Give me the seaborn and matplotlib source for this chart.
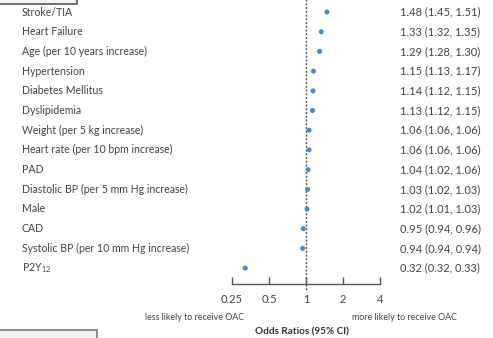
import numpy as np
import pandas as pd
import matplotlib
matplotlib.use("Agg")
import matplotlib.pyplot as plt
import matplotlib.transforms as mtransforms
from matplotlib.patches import Rectangle
import seaborn as sns

categories = ["Stroke/TIA", "Heart Failure", "Age (per 10 years increase)", "Hypertension",
              "Diabetes Mellitus", "Dyslipidemia", "Weight (per 5 kg increase)",
              "Heart rate (per 10 bpm increase)", "PAD", "Diastolic BP (per 5 mm Hg increase)",
              "Male", "CAD", "Systolic BP (per 10 mm Hg increase)", "P2Y$_{12}$"]
odds_ratio = [1.48, 1.33, 1.29, 1.15, 1.14, 1.13, 1.06, 1.06, 1.04, 1.03, 1.02, 0.95, 0.94, 0.32]
ci_low = [1.45, 1.32, 1.28, 1.13, 1.12, 1.12, 1.06, 1.06, 1.02, 1.02, 1.01, 0.94, 0.94, 0.32]
ci_high = [1.51, 1.35, 1.30, 1.17, 1.15, 1.15, 1.06, 1.06, 1.06, 1.03, 1.03, 0.96, 0.94, 0.33]
tick_values = [0.25, 0.5, 1, 2, 4]
tick_labels = ["0.25", "0.5", "1", "2", "4"]

sns.set_theme(style="white")
plt.rcParams['font.family'] = ['Lato', 'DejaVu Sans']
plt.rcParams['mathtext.default'] = 'regular'

W, H = 493, 338
fig = plt.figure(figsize=(W / 100, H / 100), dpi=100)
ax = fig.add_axes([0, 0, 1, 1])

df = pd.DataFrame({"cat": categories, "or": odds_ratio, "lo": ci_low, "hi": ci_high,
                   "row": np.arange(len(categories))})

blue = "#3b8ed6"
ax.hlines(df["row"], df["lo"], df["hi"], color=blue, lw=1)
sns.scatterplot(data=df, x="or", y="row", ax=ax, color=blue, s=13, edgecolor="none", zorder=3)

# pixel mapping: x_px = 306 + 37*log2(v); row y_px = 12 + 19.7*i
ax.set_xscale("log", base=2)
x0, ppo = 306.0, 37.0
ax.set_xlim(2 ** (-x0 / ppo), 2 ** ((W - x0) / ppo))
y0, dy = 12.0, 19.7
ax.set_ylim((H - y0) / dy, -y0 / dy)

axis_row = (284 - y0) / dy
for s in ["top", "right", "left"]:
    ax.spines[s].set_visible(False)
ax.spines["bottom"].set_position(("data", axis_row))
ax.spines["bottom"].set_bounds(0.25, 4)
ax.spines["bottom"].set_color("#555555")
ax.spines["bottom"].set_linewidth(1.0)
ax.set_xticks(tick_values)
ax.set_xticklabels(tick_labels)
ax.xaxis.set_minor_locator(matplotlib.ticker.NullLocator())
ax.tick_params(axis="x", direction="in", length=5, width=1, color="#555555",
               labelsize=8, labelcolor="#444444", pad=7, bottom=True)
ax.set_yticks([])
ax.set_xlabel("")
ax.set_ylabel("")

# reference line
ax.vlines(1, -y0 / dy - 1, (290 - y0) / dy, colors="#555555", linestyles=(0, (1.5, 1.2)), lw=1.0, zorder=1)

trans = mtransforms.blended_transform_factory(fig.transFigure, ax.transData)
for i, row in df.iterrows():
    ax.text(22 / W, row["row"], row["cat"], transform=trans, ha="left", va="center",
            fontsize=7.6, color="#444444")
    ax.text(440 / W, row["row"], f"{row['or']:.2f} ({row['lo']:.2f}, {row['hi']:.2f})",
            transform=trans, ha="center", va="center", fontsize=8, color="#444444")

fig.text(195 / W, 1 - 317 / H, "less likely to receive OAC", ha="center", va="center",
         fontsize=6.4, color="#444444")
fig.text(405 / W, 1 - 317 / H, "more likely to receive OAC", ha="center", va="center",
         fontsize=6.4, color="#444444")
fig.text(302 / W, 1 - 332 / H, "Odds Ratios (95% CI)", ha="center", va="center",
         fontsize=7.2, color="#333333", fontweight="bold")

# boxes at the corners
fig.patches.append(Rectangle((-2 / W, 1 - 3.5 / H), 79 / W, 8 / H, transform=fig.transFigure,
                             facecolor="#f2f2f2", edgecolor="#555555", lw=1.2))
fig.patches.append(Rectangle((-2 / W, -4 / H), 99 / W, 12 / H, transform=fig.transFigure,
                             facecolor="#f2f2f2", edgecolor="#777777", lw=1.2))

fig.savefig("out.png", dpi=100)
